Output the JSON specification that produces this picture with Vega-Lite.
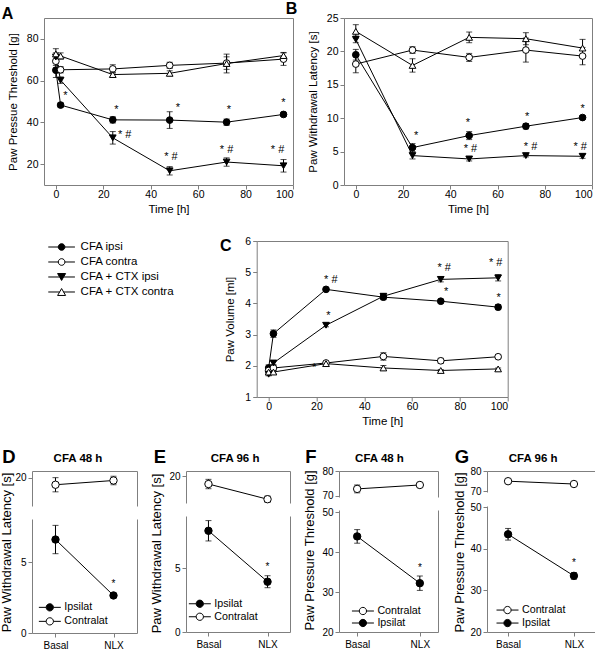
{
  "$schema": "https://vega.github.io/schema/vega-lite/v6.json",
  "padding": {"left": 0, "top": 0, "right": 0, "bottom": 0},
  "background": "white",
  "spacing": 20,
  "resolve": {"scale": {"shape": "independent", "fill": "independent"}, "legend": {"shape": "independent", "fill": "independent"}},
  "config": {
    "font": "Liberation Sans",
    "view": {"stroke": "#7f7f7f", "strokeWidth": 1},
    "axis": {"grid": false, "domain": false, "domainColor": "#7f7f7f", "tickColor": "#7f7f7f", "tickSize": 4, "labelColor": "black", "labelFontSize": 10.5, "labelPadding": 2, "titleFontSize": 11.5, "titleFontWeight": "normal", "titleColor": "black", "labelFont": "Liberation Sans", "titleFont": "Liberation Sans"},
    "legend": {"labelFont": "Liberation Sans", "labelColor": "black", "padding": 0, "rowPadding": 0, "symbolStrokeColor": "black", "symbolStrokeWidth": 1, "symbolOpacity": 1},
    "title": {"font": "Liberation Sans", "fontWeight": "bold", "color": "black", "anchor": "start", "frame": "group", "fontSize": 16, "offset": 0},
    "text": {"font": "Liberation Sans"}
  },
  "datasets": {
    "A": [
      {"t":0,"v":65,"e":3.5,"series":"CFA ipsi"},{"t":2,"v":48.3,"e":1,"series":"CFA ipsi"},{"t":24,"v":41.2,"e":1.5,"series":"CFA ipsi"},{"t":48,"v":41.1,"e":4,"series":"CFA ipsi"},{"t":72,"v":40.1,"e":1.5,"series":"CFA ipsi"},{"t":96,"v":43.8,"e":1,"series":"CFA ipsi"},
      {"t":0,"v":69.3,"e":2,"series":"CFA contra"},{"t":2,"v":65.2,"e":1.5,"series":"CFA contra"},{"t":24,"v":65.6,"e":2,"series":"CFA contra"},{"t":48,"v":67.3,"e":1.5,"series":"CFA contra"},{"t":72,"v":68.4,"e":3,"series":"CFA contra"},{"t":96,"v":70.3,"e":3,"series":"CFA contra"},
      {"t":0,"v":71.3,"e":2,"series":"CFA + CTX ipsi"},{"t":2,"v":60.2,"e":1.5,"series":"CFA + CTX ipsi"},{"t":24,"v":32.6,"e":3,"series":"CFA + CTX ipsi"},{"t":48,"v":16.8,"e":2,"series":"CFA + CTX ipsi"},{"t":72,"v":21,"e":2,"series":"CFA + CTX ipsi"},{"t":96,"v":19.2,"e":3,"series":"CFA + CTX ipsi"},
      {"t":0,"v":72.8,"e":2.5,"series":"CFA + CTX contra"},{"t":2,"v":71.8,"e":1.5,"series":"CFA + CTX contra"},{"t":24,"v":62.9,"e":1,"series":"CFA + CTX contra"},{"t":48,"v":63.5,"e":1.2,"series":"CFA + CTX contra"},{"t":72,"v":68.2,"e":4.5,"series":"CFA + CTX contra"},{"t":96,"v":72,"e":1.5,"series":"CFA + CTX contra"}
    ],
    "Astar": [
      {"t":4,"v":52.5,"label":"*"},{"t":25.5,"v":46,"label":"*"},{"t":51.5,"v":47,"label":"*"},{"t":73,"v":46,"label":"*"},{"t":96,"v":49.5,"label":"*"},
      {"t":29,"v":34,"label":"* #"},{"t":48.5,"v":23.2,"label":"* #"},{"t":72,"v":26.6,"label":"* #"},{"t":93.5,"v":26.6,"label":"* #"}
    ],
    "B": [
      {"t":0,"v":19.5,"e":0.8,"series":"CFA ipsi"},{"t":24,"v":5.6,"e":0.6,"series":"CFA ipsi"},{"t":48,"v":7.4,"e":0.6,"series":"CFA ipsi"},{"t":72,"v":8.8,"e":0.4,"series":"CFA ipsi"},{"t":96,"v":10.1,"e":0.3,"series":"CFA ipsi"},
      {"t":0,"v":18.1,"e":1.3,"series":"CFA contra"},{"t":24,"v":20.2,"e":0.5,"series":"CFA contra"},{"t":48,"v":19.1,"e":0.6,"series":"CFA contra"},{"t":72,"v":20.2,"e":1.8,"series":"CFA contra"},{"t":96,"v":19.3,"e":1.3,"series":"CFA contra"},
      {"t":0,"v":21.8,"e":0.5,"series":"CFA + CTX ipsi"},{"t":24,"v":4.4,"e":0.5,"series":"CFA + CTX ipsi"},{"t":48,"v":3.9,"e":0.3,"series":"CFA + CTX ipsi"},{"t":72,"v":4.4,"e":0.2,"series":"CFA + CTX ipsi"},{"t":96,"v":4.3,"e":0.3,"series":"CFA + CTX ipsi"},
      {"t":0,"v":23,"e":1,"series":"CFA + CTX contra"},{"t":24,"v":17.9,"e":1,"series":"CFA + CTX contra"},{"t":48,"v":22.1,"e":0.8,"series":"CFA + CTX contra"},{"t":72,"v":21.9,"e":0.9,"series":"CFA + CTX contra"},{"t":96,"v":20.5,"e":1.3,"series":"CFA + CTX contra"}
    ],
    "Bstar": [
      {"t":25.5,"v":7.3,"label":"*"},{"t":47.5,"v":9.3,"label":"*"},{"t":72.5,"v":10.2,"label":"*"},{"t":96,"v":11.4,"label":"*"},
      {"t":48.5,"v":5.4,"label":"* #"},{"t":74,"v":5.7,"label":"* #"},{"t":95,"v":5.7,"label":"* #"}
    ],
    "C": [
      {"t":0,"v":1.93,"e":0.1,"series":"CFA ipsi"},{"t":2,"v":3.03,"e":0.12,"series":"CFA ipsi"},{"t":24,"v":4.45,"e":0.05,"series":"CFA ipsi"},{"t":48,"v":4.2,"e":0.08,"series":"CFA ipsi"},{"t":72,"v":4.07,"e":0.05,"series":"CFA ipsi"},{"t":96,"v":3.88,"e":0.08,"series":"CFA ipsi"},
      {"t":0,"v":1.85,"e":0.1,"series":"CFA contra"},{"t":2,"v":1.93,"e":0.08,"series":"CFA contra"},{"t":24,"v":2.09,"e":0.05,"series":"CFA contra"},{"t":48,"v":2.3,"e":0.12,"series":"CFA contra"},{"t":72,"v":2.16,"e":0.08,"series":"CFA contra"},{"t":96,"v":2.29,"e":0.06,"series":"CFA contra"},
      {"t":0,"v":1.73,"e":0.05,"series":"CFA + CTX ipsi"},{"t":2,"v":2.09,"e":0.05,"series":"CFA + CTX ipsi"},{"t":24,"v":3.3,"e":0.05,"series":"CFA + CTX ipsi"},{"t":48,"v":4.23,"e":0.08,"series":"CFA + CTX ipsi"},{"t":72,"v":4.77,"e":0.08,"series":"CFA + CTX ipsi"},{"t":96,"v":4.82,"e":0.1,"series":"CFA + CTX ipsi"},
      {"t":0,"v":1.8,"e":0.05,"series":"CFA + CTX contra"},{"t":2,"v":1.8,"e":0.05,"series":"CFA + CTX contra"},{"t":24,"v":2.07,"e":0.05,"series":"CFA + CTX contra"},{"t":48,"v":1.93,"e":0.08,"series":"CFA + CTX contra"},{"t":72,"v":1.85,"e":0.03,"series":"CFA + CTX contra"},{"t":96,"v":1.9,"e":0.03,"series":"CFA + CTX contra"}
    ],
    "Cstar": [
      {"t":26,"v":4.74,"label":"* #"},{"t":25,"v":3.6,"label":"*"},{"t":19,"v":1.93,"label":"*"},{"t":73.4,"v":5.12,"label":"* #"},{"t":74.2,"v":4.36,"label":"*"},{"t":95,"v":5.28,"label":"* #"},{"t":96.2,"v":4.16,"label":"*"}
    ],
    "D": [
      {"cond":"Basal","v":19.5,"e":0.5,"side":"Contralat"},{"cond":"NLX","v":19.8,"e":0.3,"side":"Contralat"},
      {"cond":"Basal","v":6.6,"e":1.0,"side":"Ipsilat"},{"cond":"NLX","v":2.65,"e":0.15,"side":"Ipsilat"}
    ],
    "Dstar": [{"cond":"NLX","v":3.45,"label":"*","side":"Ipsilat"}],
    "E": [
      {"cond":"Basal","v":19.4,"e":0.37,"side":"Contralat"},{"cond":"NLX","v":18.2,"e":0.25,"side":"Contralat"},
      {"cond":"Basal","v":7.95,"e":0.8,"side":"Ipsilat"},{"cond":"NLX","v":3.95,"e":0.47,"side":"Ipsilat"}
    ],
    "Estar": [{"cond":"NLX","v":5.1,"label":"*","side":"Ipsilat"}],
    "F": [
      {"cond":"Basal","v":72.7,"e":1.6,"side":"Contralat"},{"cond":"NLX","v":74.3,"e":0.5,"side":"Contralat"},
      {"cond":"Basal","v":43.9,"e":1.7,"side":"Ipsilat"},{"cond":"NLX","v":32.2,"e":1.8,"side":"Ipsilat"}
    ],
    "Fstar": [{"cond":"NLX","v":36,"label":"*","side":"Ipsilat"}],
    "G": [
      {"cond":"Basal","v":74.9,"e":0.4,"side":"Contralat"},{"cond":"NLX","v":73.5,"e":0.4,"side":"Contralat"},
      {"cond":"Basal","v":43.5,"e":1.4,"side":"Ipsilat"},{"cond":"NLX","v":33.5,"e":0.8,"side":"Ipsilat"}
    ],
    "Gstar": [{"cond":"NLX","v":36.6,"label":"*","side":"Ipsilat"}],
    "series": [{"series":"CFA ipsi"},{"series":"CFA contra"},{"series":"CFA + CTX ipsi"},{"series":"CFA + CTX contra"}],
    "sides": [{"side":"Ipsilat"},{"side":"Contralat"}]
  },
  "vconcat": [
    {
      "hconcat": [
        {"width": 11.3, "height": 10, "view": {"stroke": null}, "data": {"values": []}, "mark": "point"},
        {
          "hconcat": [
            {
              "width": 249, "height": 167,
              "title": {"text": "A", "dx": -42.3, "dy": 8},
              "data": {"name": "A"},
              "encoding": {
                "x": {"field": "t", "type": "quantitative", "scale": {"domain": [-5, 100], "nice": false, "zero": false}, "axis": {"title": "Time [h]", "values": [0,20,40,60,80,100], "labelPadding": 0.5, "titlePadding": 3}},
                "y": {"field": "v", "type": "quantitative", "scale": {"domain": [10, 90], "nice": false, "zero": false}, "axis": {"title": "Paw Pressue Threshold [g]", "values": [20,40,60,80], "titleX": -30.8, "titleY": 83.5, "titleAlign": "center", "titleBaseline": "middle"}}
              },
              "layer": [
                {"mark": {"type": "line", "color": "black", "strokeWidth": 1}, "encoding": {"detail": {"field": "series"}}},
                {"mark": {"type": "errorbar", "color": "black", "ticks": {"size": 6}}, "encoding": {"yError": {"field": "e"}, "detail": {"field": "series"}}},
                {"mark": {"type": "point", "filled": true, "size": 45, "stroke": "black", "strokeWidth": 1, "opacity": 1},
                 "encoding": {
                   "shape": {"field": "series", "type": "nominal", "scale": {"domain": ["CFA ipsi","CFA contra","CFA + CTX ipsi","CFA + CTX contra"], "range": ["circle","circle","triangle-down","triangle-up"]}, "legend": null},
                   "fill": {"field": "series", "type": "nominal", "scale": {"domain": ["CFA ipsi","CFA contra","CFA + CTX ipsi","CFA + CTX contra"], "range": ["black","white","black","white"]}, "legend": null}
                 }},
                {"data": {"name": "Astar"}, "mark": {"type": "text", "fontSize": 11, "color": "black"}, "encoding": {"text": {"field": "label"}}}
              ]
            },
            {
              "width": 248, "height": 167,
              "title": {"text": "B", "dx": -58.3, "dy": 8},
              "data": {"name": "B"},
              "encoding": {
                "x": {"field": "t", "type": "quantitative", "scale": {"domain": [-5, 100], "nice": false, "zero": false}, "axis": {"title": "Time [h]", "values": [0,20,40,60,80,100], "labelPadding": 0.5, "titlePadding": 3}},
                "y": {"field": "v", "type": "quantitative", "scale": {"domain": [0, 25], "nice": false, "zero": false}, "axis": {"title": "Paw Withdrawal Latency [s]", "values": [0,5,10,15,20,25], "titleX": -30.8, "titleY": 83.5, "titleAlign": "center", "titleBaseline": "middle"}}
              },
              "layer": [
                {"mark": {"type": "line", "color": "black", "strokeWidth": 1}, "encoding": {"detail": {"field": "series"}}},
                {"mark": {"type": "errorbar", "color": "black", "ticks": {"size": 6}}, "encoding": {"yError": {"field": "e"}, "detail": {"field": "series"}}},
                {"mark": {"type": "point", "filled": true, "size": 45, "stroke": "black", "strokeWidth": 1, "opacity": 1},
                 "encoding": {
                   "shape": {"field": "series", "type": "nominal", "scale": {"domain": ["CFA ipsi","CFA contra","CFA + CTX ipsi","CFA + CTX contra"], "range": ["circle","circle","triangle-down","triangle-up"]}, "legend": null},
                   "fill": {"field": "series", "type": "nominal", "scale": {"domain": ["CFA ipsi","CFA contra","CFA + CTX ipsi","CFA + CTX contra"], "range": ["black","white","black","white"]}, "legend": null}
                 }},
                {"data": {"name": "Bstar"}, "mark": {"type": "text", "fontSize": 11, "color": "black"}, "encoding": {"text": {"field": "label"}}}
              ]
            }
          ],
          "spacing": 51,
          "bounds": "flush",
          "resolve": {"scale": {"shape": "independent", "fill": "independent"}, "legend": {"shape": "independent", "fill": "independent"}}
        }
      ],
      "spacing": 0,
      "bounds": "flush",
      "resolve": {"scale": {"shape": "independent", "fill": "independent"}, "legend": {"shape": "independent", "fill": "independent"}}
    },
    {
      "hconcat": [
        {
          "width": 170, "height": 60,
          "view": {"stroke": null},
          "data": {"name": "series"},
          "mark": {"type": "point", "filled": true, "opacity": 0, "stroke": "black"},
          "encoding": {
            "shape": {"field": "series", "type": "nominal", "scale": {"domain": ["CFA ipsi","CFA contra","CFA + CTX ipsi","CFA + CTX contra"], "range": [
              "M-1,0L-0.25,0M0.25,0L1,0M0.25,0A0.25,0.25,0,1,1,-0.25,0A0.25,0.25,0,1,1,0.25,0Z",
              "M-1,0L-0.25,0M0.25,0L1,0M0.25,0A0.25,0.25,0,1,1,-0.25,0A0.25,0.25,0,1,1,0.25,0Z",
              "M-1,0L-0.15,0M0.15,0L1,0M-0.3,-0.26L0.3,-0.26L0,0.26Z",
              "M-1,0L-0.15,0M0.15,0L1,0M-0.3,0.26L0.3,0.26L0,-0.26Z"]},
              "legend": {"title": null, "orient": "none", "legendX": 15.6, "legendY": -1.35, "symbolSize": 711, "clipHeight": 14.7, "labelFontSize": 11.5, "labelOffset": 5, "encode": {"symbols": {"update": {"stroke": {"value": "black"}, "strokeWidth": {"value": 1}, "opacity": {"value": 1}}}}}},
            "fill": {"field": "series", "type": "nominal", "scale": {"domain": ["CFA ipsi","CFA contra","CFA + CTX ipsi","CFA + CTX contra"], "range": ["black","white","black","white"]},
              "legend": {"title": null, "orient": "none", "legendX": 15.6, "legendY": -1.35, "symbolSize": 711, "clipHeight": 14.7, "labelFontSize": 11.5, "labelOffset": 5, "encode": {"symbols": {"update": {"stroke": {"value": "black"}, "strokeWidth": {"value": 1}, "opacity": {"value": 1}}}}}}
          }
        },
        {
          "width": 251, "height": 156,
          "title": {"text": "C", "dx": -36.7, "dy": 22},
          "data": {"name": "C"},
          "encoding": {
            "x": {"field": "t", "type": "quantitative", "scale": {"domain": [-5, 100], "nice": false, "zero": false}, "axis": {"title": "Time [h]", "values": [0,20,40,60,80,100], "labelPadding": 0.5, "titlePadding": 3}},
            "y": {"field": "v", "type": "quantitative", "scale": {"domain": [1, 6], "nice": false, "zero": false}, "axis": {"title": "Paw Volume [ml]", "values": [1,2,3,4,5,6], "titleX": -26.7, "titleY": 78, "titleAlign": "center", "titleBaseline": "middle"}}
          },
          "layer": [
            {"mark": {"type": "line", "color": "black", "strokeWidth": 1}, "encoding": {"detail": {"field": "series"}}},
            {"mark": {"type": "errorbar", "color": "black", "ticks": {"size": 6}}, "encoding": {"yError": {"field": "e"}, "detail": {"field": "series"}}},
            {"mark": {"type": "point", "filled": true, "size": 45, "stroke": "black", "strokeWidth": 1, "opacity": 1},
             "encoding": {
               "shape": {"field": "series", "type": "nominal", "scale": {"domain": ["CFA ipsi","CFA contra","CFA + CTX ipsi","CFA + CTX contra"], "range": ["circle","circle","triangle-down","triangle-up"]}, "legend": null},
               "fill": {"field": "series", "type": "nominal", "scale": {"domain": ["CFA ipsi","CFA contra","CFA + CTX ipsi","CFA + CTX contra"], "range": ["black","white","black","white"]}, "legend": null}
             }},
            {"data": {"name": "Cstar"}, "mark": {"type": "text", "fontSize": 11, "color": "black"}, "encoding": {"text": {"field": "label"}}}
          ]
        }
      ],
      "spacing": 54.7,
      "bounds": "flush",
      "resolve": {"scale": {"shape": "independent", "fill": "independent"}, "legend": {"shape": "independent", "fill": "independent"}}
    },
    {
      "hconcat": [
        {
          "width": 105, "height": 162,
          "view": {"stroke": null},
          "data": {"name": "D"},
          "layer": [
            {
              "transform": [{"filter": {"field": "side", "equal": "Contralat"}}],
              "encoding": {"x": {"field": "cond", "type": "ordinal", "scale": {"type": "point", "domain": ["Basal","NLX"], "padding": 0.405}, "axis": {"orient": "top", "labels": false, "ticks": false, "domain": true, "title": "CFA 48 h", "titleFontSize": 11.5, "titleFontWeight": "bold", "titleX": 45.5, "titleY": -10, "titleAlign": "center", "titleBaseline": "alphabetic"}}},
              "layer": [
                {"mark": {"type": "line", "color": "black", "strokeWidth": 1},
                 "encoding": {"y": {"field": "v", "type": "quantitative", "scale": {"domain": [18, 20.47], "range": [35, 0], "nice": false, "zero": false}, "axis": {"orient": "left", "values": [20], "domain": true, "labelFontSize": 10, "title": "D", "titleAngle": 0, "titleX": -30.3, "titleY": -9, "titleAlign": "left", "titleBaseline": "alphabetic", "titleFontSize": 18.5, "titleFontWeight": "bold"}}}},
                {"mark": {"type": "errorbar", "color": "black", "ticks": {"size": 6}},
                 "encoding": {"y": {"field": "v", "type": "quantitative", "scale": {"domain": [18, 20.47], "range": [35, 0], "nice": false, "zero": false}, "axis": null}, "yError": {"field": "e"}}},
                {"mark": {"type": "point", "shape": "circle", "filled": true, "fill": "white", "stroke": "black", "strokeWidth": 1, "size": 55, "opacity": 1},
                 "encoding": {"y": {"field": "v", "type": "quantitative", "scale": {"domain": [18, 20.47], "range": [35, 0], "nice": false, "zero": false}, "axis": {"orient": "right", "labels": false, "ticks": false, "domain": true, "title": null}}}}
              ],
              "resolve": {"axis": {"y": "independent"}}
            },
            {
              "transform": [{"filter": {"field": "side", "equal": "Ipsilat"}}],
              "encoding": {"x": {"field": "cond", "type": "ordinal", "scale": {"type": "point", "domain": ["Basal","NLX"], "padding": 0.405}, "axis": {"orient": "bottom", "title": null, "labelAngle": 0, "labelFontSize": 10, "domain": true, "labelPadding": 3}}},
              "layer": [
                {"mark": {"type": "line", "color": "black", "strokeWidth": 1},
                 "encoding": {"y": {"field": "v", "type": "quantitative", "scale": {"domain": [0, 8.05], "range": [162, 48], "nice": false, "zero": false}, "axis": {"orient": "left", "values": [0, 5], "domain": true, "labelFontSize": 10, "title": "Paw Withdrawal Latency [s]", "titleFontSize": 13, "titleX": -25.3, "titleY": 81, "titleAlign": "center", "titleBaseline": "middle"}}}},
                {"mark": {"type": "errorbar", "color": "black", "ticks": {"size": 6}},
                 "encoding": {"y": {"field": "v", "type": "quantitative", "scale": {"domain": [0, 8.05], "range": [162, 48], "nice": false, "zero": false}, "axis": null}, "yError": {"field": "e"}}},
                {"mark": {"type": "point", "shape": "circle", "filled": true, "fill": "black", "stroke": "black", "strokeWidth": 1, "size": 55, "opacity": 1},
                 "encoding": {"y": {"field": "v", "type": "quantitative", "scale": {"domain": [0, 8.05], "range": [162, 48], "nice": false, "zero": false}, "axis": {"orient": "right", "labels": false, "ticks": false, "domain": true, "title": null}}}},
                {"data": {"name": "Dstar"}, "mark": {"type": "text", "fontSize": 10, "color": "black"},
                 "encoding": {"y": {"field": "v", "type": "quantitative", "scale": {"domain": [0, 8.05], "range": [162, 48], "nice": false, "zero": false}, "axis": null}, "text": {"field": "label"}}}
              ],
              "resolve": {"axis": {"y": "independent"}}
            },
            {
              "data": {"name": "sides"},
              "mark": {"type": "point", "filled": true, "opacity": 0, "stroke": "black"},
              "encoding": {
                "shape": {"field": "side", "type": "nominal", "scale": {"domain": ["Ipsilat","Contralat"], "range": ["M-1,0L-0.33,0M0.33,0L1,0M0.33,0A0.33,0.33,0,1,1,-0.33,0A0.33,0.33,0,1,1,0.33,0Z","M-1,0L-0.33,0M0.33,0L1,0M0.33,0A0.33,0.33,0,1,1,-0.33,0A0.33,0.33,0,1,1,0.33,0Z"]},
                  "legend": {"title": null, "orient": "none", "legendX": 6.3, "legendY": 129.5, "symbolSize": 484, "clipHeight": 13.7, "labelFontSize": 10.7, "labelOffset": 3, "encode": {"symbols": {"update": {"stroke": {"value": "black"}, "strokeWidth": {"value": 1}, "opacity": {"value": 1}}}}}},
                "fill": {"field": "side", "type": "nominal", "scale": {"domain": ["Ipsilat","Contralat"], "range": ["black","white"]},
                  "legend": {"title": null, "orient": "none", "legendX": 6.3, "legendY": 129.5, "symbolSize": 484, "clipHeight": 13.7, "labelFontSize": 10.7, "labelOffset": 3, "encode": {"symbols": {"update": {"stroke": {"value": "black"}, "strokeWidth": {"value": 1}, "opacity": {"value": 1}}}}}}
              }
            }
          ],
          "resolve": {"scale": {"y": "independent"}, "axis": {"x": "independent", "y": "independent"}}
        },
        {
          "width": 104, "height": 161,
          "view": {"stroke": null},
          "data": {"name": "E"},
          "layer": [
            {
              "transform": [{"filter": {"field": "side", "equal": "Contralat"}}],
              "encoding": {"x": {"field": "cond", "type": "ordinal", "scale": {"type": "point", "domain": ["Basal","NLX"], "padding": 0.38}, "axis": {"orient": "top", "labels": false, "ticks": false, "domain": true, "title": "CFA 96 h", "titleFontSize": 11.5, "titleFontWeight": "bold", "titleX": 48.6, "titleY": -10, "titleAlign": "center", "titleBaseline": "alphabetic"}}},
              "layer": [
                {"mark": {"type": "line", "color": "black", "strokeWidth": 1},
                 "encoding": {"y": {"field": "v", "type": "quantitative", "scale": {"domain": [17.9, 20.43], "range": [32, 0], "nice": false, "zero": false}, "axis": {"orient": "left", "values": [20], "domain": true, "labelFontSize": 10, "title": "E", "titleAngle": 0, "titleX": -32.7, "titleY": -9, "titleAlign": "left", "titleBaseline": "alphabetic", "titleFontSize": 18.5, "titleFontWeight": "bold"}}}},
                {"mark": {"type": "errorbar", "color": "black", "ticks": {"size": 6}},
                 "encoding": {"y": {"field": "v", "type": "quantitative", "scale": {"domain": [17.9, 20.43], "range": [32, 0], "nice": false, "zero": false}, "axis": null}, "yError": {"field": "e"}}},
                {"mark": {"type": "point", "shape": "circle", "filled": true, "fill": "white", "stroke": "black", "strokeWidth": 1, "size": 55, "opacity": 1},
                 "encoding": {"y": {"field": "v", "type": "quantitative", "scale": {"domain": [17.9, 20.43], "range": [32, 0], "nice": false, "zero": false}, "axis": {"orient": "right", "labels": false, "ticks": false, "domain": true, "title": null}}}}
              ],
              "resolve": {"axis": {"y": "independent"}}
            },
            {
              "transform": [{"filter": {"field": "side", "equal": "Ipsilat"}}],
              "encoding": {"x": {"field": "cond", "type": "ordinal", "scale": {"type": "point", "domain": ["Basal","NLX"], "padding": 0.38}, "axis": {"orient": "bottom", "title": null, "labelAngle": 0, "labelFontSize": 10, "domain": true, "labelPadding": 3}}},
              "layer": [
                {"mark": {"type": "line", "color": "black", "strokeWidth": 1},
                 "encoding": {"y": {"field": "v", "type": "quantitative", "scale": {"domain": [0, 9.11], "range": [161, 45], "nice": false, "zero": false}, "axis": {"orient": "left", "values": [0, 5], "domain": true, "labelFontSize": 10, "title": "Paw Withdrawal Latency [s]", "titleFontSize": 13, "titleX": -29.3, "titleY": 82, "titleAlign": "center", "titleBaseline": "middle"}}}},
                {"mark": {"type": "errorbar", "color": "black", "ticks": {"size": 6}},
                 "encoding": {"y": {"field": "v", "type": "quantitative", "scale": {"domain": [0, 9.11], "range": [161, 45], "nice": false, "zero": false}, "axis": null}, "yError": {"field": "e"}}},
                {"mark": {"type": "point", "shape": "circle", "filled": true, "fill": "black", "stroke": "black", "strokeWidth": 1, "size": 55, "opacity": 1},
                 "encoding": {"y": {"field": "v", "type": "quantitative", "scale": {"domain": [0, 9.11], "range": [161, 45], "nice": false, "zero": false}, "axis": {"orient": "right", "labels": false, "ticks": false, "domain": true, "title": null}}}},
                {"data": {"name": "Estar"}, "mark": {"type": "text", "fontSize": 10, "color": "black"},
                 "encoding": {"y": {"field": "v", "type": "quantitative", "scale": {"domain": [0, 9.11], "range": [161, 45], "nice": false, "zero": false}, "axis": null}, "text": {"field": "label"}}}
              ],
              "resolve": {"axis": {"y": "independent"}}
            },
            {
              "data": {"name": "sides"},
              "mark": {"type": "point", "filled": true, "opacity": 0, "stroke": "black"},
              "encoding": {
                "shape": {"field": "side", "type": "nominal", "scale": {"domain": ["Ipsilat","Contralat"], "range": ["M-1,0L-0.33,0M0.33,0L1,0M0.33,0A0.33,0.33,0,1,1,-0.33,0A0.33,0.33,0,1,1,0.33,0Z","M-1,0L-0.33,0M0.33,0L1,0M0.33,0A0.33,0.33,0,1,1,-0.33,0A0.33,0.33,0,1,1,0.33,0Z"]},
                  "legend": {"title": null, "orient": "none", "legendX": 2.3, "legendY": 127, "symbolSize": 484, "clipHeight": 11.5, "labelFontSize": 10.7, "labelOffset": 3, "encode": {"symbols": {"update": {"stroke": {"value": "black"}, "strokeWidth": {"value": 1}, "opacity": {"value": 1}}}}}},
                "fill": {"field": "side", "type": "nominal", "scale": {"domain": ["Ipsilat","Contralat"], "range": ["black","white"]},
                  "legend": {"title": null, "orient": "none", "legendX": 2.3, "legendY": 127, "symbolSize": 484, "clipHeight": 11.5, "labelFontSize": 10.7, "labelOffset": 3, "encode": {"symbols": {"update": {"stroke": {"value": "black"}, "strokeWidth": {"value": 1}, "opacity": {"value": 1}}}}}}
              }
            }
          ],
          "resolve": {"scale": {"y": "independent"}, "axis": {"x": "independent", "y": "independent"}}
        },
        {
          "width": 99, "height": 161,
          "view": {"stroke": null},
          "data": {"name": "F"},
          "layer": [
            {
              "transform": [{"filter": {"field": "side", "equal": "Contralat"}}],
              "encoding": {"x": {"field": "cond", "type": "ordinal", "scale": {"type": "point", "domain": ["Basal","NLX"], "padding": 0.29}, "axis": {"orient": "top", "labels": false, "ticks": false, "domain": true, "title": "CFA 48 h", "titleFontSize": 11.5, "titleFontWeight": "bold", "titleX": 40, "titleY": -10, "titleAlign": "center", "titleBaseline": "alphabetic"}}},
              "layer": [
                {"mark": {"type": "line", "color": "black", "strokeWidth": 1},
                 "encoding": {"y": {"field": "v", "type": "quantitative", "scale": {"domain": [69.4, 80], "range": [26, 0], "nice": false, "zero": false}, "axis": {"orient": "left", "values": [70, 80], "domain": true, "labelFontSize": 10, "title": "F", "titleAngle": 0, "titleX": -34.3, "titleY": -9, "titleAlign": "left", "titleBaseline": "alphabetic", "titleFontSize": 18.5, "titleFontWeight": "bold"}}}},
                {"mark": {"type": "errorbar", "color": "black", "ticks": {"size": 6}},
                 "encoding": {"y": {"field": "v", "type": "quantitative", "scale": {"domain": [69.4, 80], "range": [26, 0], "nice": false, "zero": false}, "axis": null}, "yError": {"field": "e"}}},
                {"mark": {"type": "point", "shape": "circle", "filled": true, "fill": "white", "stroke": "black", "strokeWidth": 1, "size": 55, "opacity": 1},
                 "encoding": {"y": {"field": "v", "type": "quantitative", "scale": {"domain": [69.4, 80], "range": [26, 0], "nice": false, "zero": false}, "axis": {"orient": "right", "labels": false, "ticks": false, "domain": true, "title": null}}}}
              ],
              "resolve": {"axis": {"y": "independent"}}
            },
            {
              "transform": [{"filter": {"field": "side", "equal": "Ipsilat"}}],
              "encoding": {"x": {"field": "cond", "type": "ordinal", "scale": {"type": "point", "domain": ["Basal","NLX"], "padding": 0.29}, "axis": {"orient": "bottom", "title": null, "labelAngle": 0, "labelFontSize": 10, "domain": true, "labelPadding": 3}}},
              "layer": [
                {"mark": {"type": "line", "color": "black", "strokeWidth": 1},
                 "encoding": {"y": {"field": "v", "type": "quantitative", "scale": {"domain": [20, 50.5], "range": [161, 39], "nice": false, "zero": false}, "axis": {"orient": "left", "values": [20, 30, 40, 50], "domain": true, "labelFontSize": 10, "title": "Paw Pressure Threshold [g]", "titleFontSize": 13, "titleX": -29.3, "titleY": 79, "titleAlign": "center", "titleBaseline": "middle"}}}},
                {"mark": {"type": "errorbar", "color": "black", "ticks": {"size": 6}},
                 "encoding": {"y": {"field": "v", "type": "quantitative", "scale": {"domain": [20, 50.5], "range": [161, 39], "nice": false, "zero": false}, "axis": null}, "yError": {"field": "e"}}},
                {"mark": {"type": "point", "shape": "circle", "filled": true, "fill": "black", "stroke": "black", "strokeWidth": 1, "size": 55, "opacity": 1},
                 "encoding": {"y": {"field": "v", "type": "quantitative", "scale": {"domain": [20, 50.5], "range": [161, 39], "nice": false, "zero": false}, "axis": {"orient": "right", "labels": false, "ticks": false, "domain": true, "title": null}}}},
                {"data": {"name": "Fstar"}, "mark": {"type": "text", "fontSize": 10, "color": "black"},
                 "encoding": {"y": {"field": "v", "type": "quantitative", "scale": {"domain": [20, 50.5], "range": [161, 39], "nice": false, "zero": false}, "axis": null}, "text": {"field": "label"}}}
              ],
              "resolve": {"axis": {"y": "independent"}}
            },
            {
              "data": {"name": "sides"},
              "mark": {"type": "point", "filled": true, "opacity": 0, "stroke": "black"},
              "encoding": {
                "shape": {"field": "side", "type": "nominal", "scale": {"domain": ["Contralat","Ipsilat"], "range": ["M-1,0L-0.33,0M0.33,0L1,0M0.33,0A0.33,0.33,0,1,1,-0.33,0A0.33,0.33,0,1,1,0.33,0Z","M-1,0L-0.33,0M0.33,0L1,0M0.33,0A0.33,0.33,0,1,1,-0.33,0A0.33,0.33,0,1,1,0.33,0Z"]},
                  "legend": {"title": null, "orient": "none", "legendX": 12.4, "legendY": 134, "symbolSize": 484, "clipHeight": 12, "labelFontSize": 10.7, "labelOffset": 3, "encode": {"symbols": {"update": {"stroke": {"value": "black"}, "strokeWidth": {"value": 1}, "opacity": {"value": 1}}}}}},
                "fill": {"field": "side", "type": "nominal", "scale": {"domain": ["Contralat","Ipsilat"], "range": ["white","black"]},
                  "legend": {"title": null, "orient": "none", "legendX": 12.4, "legendY": 134, "symbolSize": 484, "clipHeight": 12, "labelFontSize": 10.7, "labelOffset": 3, "encode": {"symbols": {"update": {"stroke": {"value": "black"}, "strokeWidth": {"value": 1}, "opacity": {"value": 1}}}}}}
              }
            }
          ],
          "resolve": {"scale": {"y": "independent"}, "axis": {"x": "independent", "y": "independent"}}
        },
        {
          "width": 108, "height": 161,
          "view": {"stroke": null},
          "data": {"name": "G"},
          "layer": [
            {
              "transform": [{"filter": {"field": "side", "equal": "Contralat"}}],
              "encoding": {"x": {"field": "cond", "type": "ordinal", "scale": {"type": "point", "domain": ["Basal","NLX"], "padding": 0.32}, "axis": {"orient": "top", "labels": false, "ticks": false, "domain": true, "title": "CFA 96 h", "titleFontSize": 11.5, "titleFontWeight": "bold", "titleX": 45.7, "titleY": -10, "titleAlign": "center", "titleBaseline": "alphabetic"}}},
              "layer": [
                {"mark": {"type": "line", "color": "black", "strokeWidth": 1},
                 "encoding": {"y": {"field": "v", "type": "quantitative", "scale": {"domain": [69.5, 80], "range": [21, 0], "nice": false, "zero": false}, "axis": {"orient": "left", "values": [70, 80], "domain": true, "labelFontSize": 10, "title": "G", "titleAngle": 0, "titleX": -32.7, "titleY": -9, "titleAlign": "left", "titleBaseline": "alphabetic", "titleFontSize": 18.5, "titleFontWeight": "bold"}}}},
                {"mark": {"type": "errorbar", "color": "black", "ticks": {"size": 6}},
                 "encoding": {"y": {"field": "v", "type": "quantitative", "scale": {"domain": [69.5, 80], "range": [21, 0], "nice": false, "zero": false}, "axis": null}, "yError": {"field": "e"}}},
                {"mark": {"type": "point", "shape": "circle", "filled": true, "fill": "white", "stroke": "black", "strokeWidth": 1, "size": 55, "opacity": 1},
                 "encoding": {"y": {"field": "v", "type": "quantitative", "scale": {"domain": [69.5, 80], "range": [21, 0], "nice": false, "zero": false}, "axis": {"orient": "right", "labels": false, "ticks": false, "domain": true, "title": null}}}}
              ],
              "resolve": {"axis": {"y": "independent"}}
            },
            {
              "transform": [{"filter": {"field": "side", "equal": "Ipsilat"}}],
              "encoding": {"x": {"field": "cond", "type": "ordinal", "scale": {"type": "point", "domain": ["Basal","NLX"], "padding": 0.32}, "axis": {"orient": "bottom", "title": null, "labelAngle": 0, "labelFontSize": 10, "domain": true, "labelPadding": 3}}},
              "layer": [
                {"mark": {"type": "line", "color": "black", "strokeWidth": 1},
                 "encoding": {"y": {"field": "v", "type": "quantitative", "scale": {"domain": [20, 50.3], "range": [161, 35], "nice": false, "zero": false}, "axis": {"orient": "left", "values": [20, 30, 40, 50], "domain": true, "labelFontSize": 10, "title": "Paw Pressure Threshold [g]", "titleFontSize": 13, "titleX": -28, "titleY": 81, "titleAlign": "center", "titleBaseline": "middle"}}}},
                {"mark": {"type": "errorbar", "color": "black", "ticks": {"size": 6}},
                 "encoding": {"y": {"field": "v", "type": "quantitative", "scale": {"domain": [20, 50.3], "range": [161, 35], "nice": false, "zero": false}, "axis": null}, "yError": {"field": "e"}}},
                {"mark": {"type": "point", "shape": "circle", "filled": true, "fill": "black", "stroke": "black", "strokeWidth": 1, "size": 55, "opacity": 1},
                 "encoding": {"y": {"field": "v", "type": "quantitative", "scale": {"domain": [20, 50.3], "range": [161, 35], "nice": false, "zero": false}, "axis": {"orient": "right", "labels": false, "ticks": false, "domain": true, "title": null}}}},
                {"data": {"name": "Gstar"}, "mark": {"type": "text", "fontSize": 10, "color": "black"},
                 "encoding": {"y": {"field": "v", "type": "quantitative", "scale": {"domain": [20, 50.3], "range": [161, 35], "nice": false, "zero": false}, "axis": null}, "text": {"field": "label"}}}
              ],
              "resolve": {"axis": {"y": "independent"}}
            },
            {
              "data": {"name": "sides"},
              "mark": {"type": "point", "filled": true, "opacity": 0, "stroke": "black"},
              "encoding": {
                "shape": {"field": "side", "type": "nominal", "scale": {"domain": ["Contralat","Ipsilat"], "range": ["M-1,0L-0.33,0M0.33,0L1,0M0.33,0A0.33,0.33,0,1,1,-0.33,0A0.33,0.33,0,1,1,0.33,0Z","M-1,0L-0.33,0M0.33,0L1,0M0.33,0A0.33,0.33,0,1,1,-0.33,0A0.33,0.33,0,1,1,0.33,0Z"]},
                  "legend": {"title": null, "orient": "none", "legendX": 9, "legendY": 133.2, "symbolSize": 484, "clipHeight": 11.7, "labelFontSize": 10.7, "labelOffset": 3, "encode": {"symbols": {"update": {"stroke": {"value": "black"}, "strokeWidth": {"value": 1}, "opacity": {"value": 1}}}}}},
                "fill": {"field": "side", "type": "nominal", "scale": {"domain": ["Contralat","Ipsilat"], "range": ["white","black"]},
                  "legend": {"title": null, "orient": "none", "legendX": 9, "legendY": 133.2, "symbolSize": 484, "clipHeight": 11.7, "labelFontSize": 10.7, "labelOffset": 3, "encode": {"symbols": {"update": {"stroke": {"value": "black"}, "strokeWidth": {"value": 1}, "opacity": {"value": 1}}}}}}
              }
            }
          ],
          "resolve": {"scale": {"y": "independent"}, "axis": {"x": "independent", "y": "independent"}}
        }
      ],
      "spacing": 49,
      "bounds": "flush",
      "resolve": {"scale": {"shape": "independent", "fill": "independent"}, "legend": {"shape": "independent", "fill": "independent"}}
    }
  ]
}
